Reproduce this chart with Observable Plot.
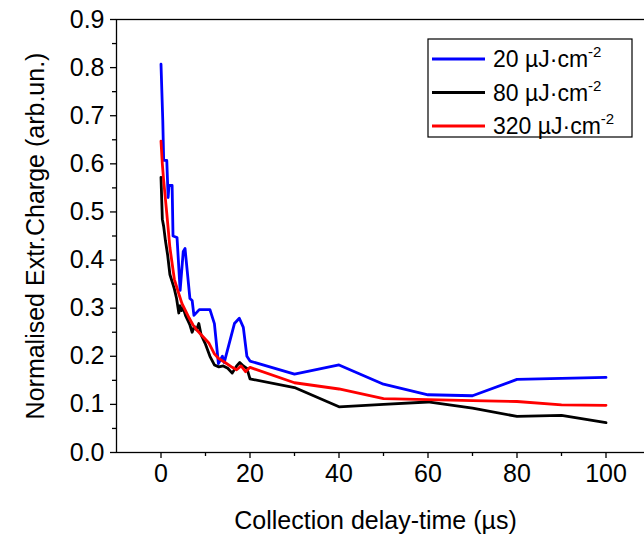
<!DOCTYPE html>
<html>
<head>
<meta charset="utf-8">
<script src="https://cdn.jsdelivr.net/npm/d3@7"></script>
<script src="https://cdn.jsdelivr.net/npm/@observablehq/plot@0.6"></script>
<style>
  html, body { margin: 0; padding: 0; background: #fff; overflow: hidden; }
  #chart svg { display: block; max-width: none; font-family: "Liberation Sans", Arial, sans-serif; }
</style>
</head>
<body>
<div id="chart"></div>
<script>
// Extracted charge vs. collection delay time, three excitation fluences
const seriesNames = ["20", "80", "320"];
const seriesColors = ["#0000ff", "#000000", "#ff0000"];

const time20 = [0, 0.4, 0.6, 1.3, 1.6, 1.8, 2.5, 2.7, 3.6, 4.3, 5.0, 5.4, 6.5, 7.0, 7.4, 8.6, 11.0, 12.0, 12.9, 13.8, 14.2, 16.5, 17.6, 18.5, 19.3, 20, 30, 40, 50, 60, 70, 80, 100];
const value20 = [0.807, 0.69, 0.607, 0.607, 0.53, 0.555, 0.555, 0.45, 0.447, 0.337, 0.418, 0.424, 0.32, 0.316, 0.285, 0.297, 0.297, 0.268, 0.185, 0.20, 0.187, 0.268, 0.279, 0.26, 0.20, 0.19, 0.163, 0.182, 0.142, 0.120, 0.118, 0.152, 0.156];

const time80 = [0, 0.3, 0.6, 1, 1.5, 2, 2.5, 3, 3.5, 4, 4.3, 4.6, 5, 5.5, 6, 6.5, 7, 7.5, 8, 8.5, 9, 10, 11, 12, 13, 14, 15, 16, 17, 17.7, 18.5, 19.3, 20, 30, 40, 50, 60, 70, 80, 90, 100];
const value80 = [0.572, 0.485, 0.47, 0.44, 0.41, 0.37, 0.355, 0.34, 0.32, 0.29, 0.305, 0.295, 0.30, 0.285, 0.275, 0.265, 0.25, 0.262, 0.255, 0.268, 0.245, 0.225, 0.20, 0.182, 0.178, 0.18, 0.175, 0.165, 0.18, 0.187, 0.18, 0.175, 0.153, 0.135, 0.095, 0.100, 0.105, 0.092, 0.075, 0.077, 0.062];

const time320 = [0, 0.3, 0.6, 1.3, 2, 3, 4, 4.7, 5.5, 6.3, 7.2, 8.1, 9.5, 10.8, 12, 13, 14.4, 16, 17, 18, 19, 20, 30, 40, 50, 60, 70, 80, 90, 100];
const value320 = [0.647, 0.60, 0.565, 0.497, 0.426, 0.36, 0.33, 0.31, 0.295, 0.28, 0.265, 0.254, 0.24, 0.227, 0.205, 0.195, 0.187, 0.177, 0.172, 0.18, 0.168, 0.177, 0.145, 0.132, 0.112, 0.110, 0.108, 0.106, 0.099, 0.098];

const xMajorTicks = [0, 20, 40, 60, 80, 100];
const xMinorTicks = [10, 30, 50, 70, 90, 110];
const yMajorTicks = [0, 0.1, 0.2, 0.3, 0.4, 0.5, 0.6, 0.7, 0.8, 0.9];
const yMinorTicks = [0.05, 0.15, 0.25, 0.35, 0.45, 0.55, 0.65, 0.75, 0.85];

const xTitle = "Collection delay-time (µs)";
const yTitle = "Normalised Extr.Charge (arb.un.)";

const toRows = (name, ts, vs) => ts.map((t, i) => ({series: name, t, v: vs[i]}));
const rows = [
  ...toRows("20", time20, value20),
  ...toRows("80", time80, value80),
  ...toRows("320", time320, value320)
];

const font = "Liberation Sans, Arial, sans-serif";

const chart = Plot.plot({
  width: 650,
  height: 536,
  marginLeft: 116,
  marginRight: 0,
  marginTop: 19,
  marginBottom: 84,
  style: {fontFamily: font, background: "#fff", overflow: "visible", maxWidth: "none"},
  x: {domain: [-10, 110]},
  y: {domain: [0, 0.9]},
  color: {domain: seriesNames, range: seriesColors},
  marks: [
    Plot.axisX({ticks: xMajorTicks, tickSize: 6, tickPadding: 6, fontSize: 25, label: null, strokeWidth: 1.3}),
    Plot.axisX({ticks: xMinorTicks, tickSize: 4, text: null, label: null, strokeWidth: 1.3}),
    Plot.axisY({ticks: yMajorTicks, tickSize: 6, tickPadding: 6, fontSize: 25, tickFormat: d3.format(".1f"), label: null, strokeWidth: 1.3}),
    Plot.axisY({ticks: yMinorTicks, tickSize: 4, text: null, label: null, strokeWidth: 1.3}),
    Plot.frame({stroke: "#000", strokeWidth: 1.3}),
    Plot.line(rows, {x: "t", y: "v", z: "series", stroke: "series", strokeWidth: 2.8, strokeLinejoin: "round"}),
    Plot.text([xTitle], {frameAnchor: "bottom", dy: 76, dx: -8, fontSize: 25, fill: "#000"}),
    Plot.text([yTitle], {frameAnchor: "left", dx: -81, rotate: -90, textAnchor: "middle", fontSize: 25, fill: "#000"})
  ]
});

// Legend box with superscripted units
const svg = d3.select(chart);
const legend = svg.append("g")
  .attr("font-family", font)
  .attr("font-size", 23)
  .attr("text-anchor", "start");
legend.append("rect")
  .attr("x", 428).attr("y", 39).attr("width", 204).attr("height", 98)
  .attr("fill", "#fff").attr("stroke", "#000").attr("stroke-width", 1.2);
seriesNames.forEach((name, i) => {
  const y = 59 + i * 33.5;
  legend.append("line")
    .attr("x1", 432).attr("x2", 485).attr("y1", y).attr("y2", y)
    .attr("stroke", seriesColors[i]).attr("stroke-width", 2.8);
  const label = legend.append("text").attr("x", 493).attr("y", y + 8).attr("fill", "#000");
  label.append("tspan").text(`${name} µJ·cm`);
  label.append("tspan").attr("dy", -10).attr("font-size", 15).text("-2");
});

document.getElementById("chart").appendChild(chart);
</script>
</body>
</html>
